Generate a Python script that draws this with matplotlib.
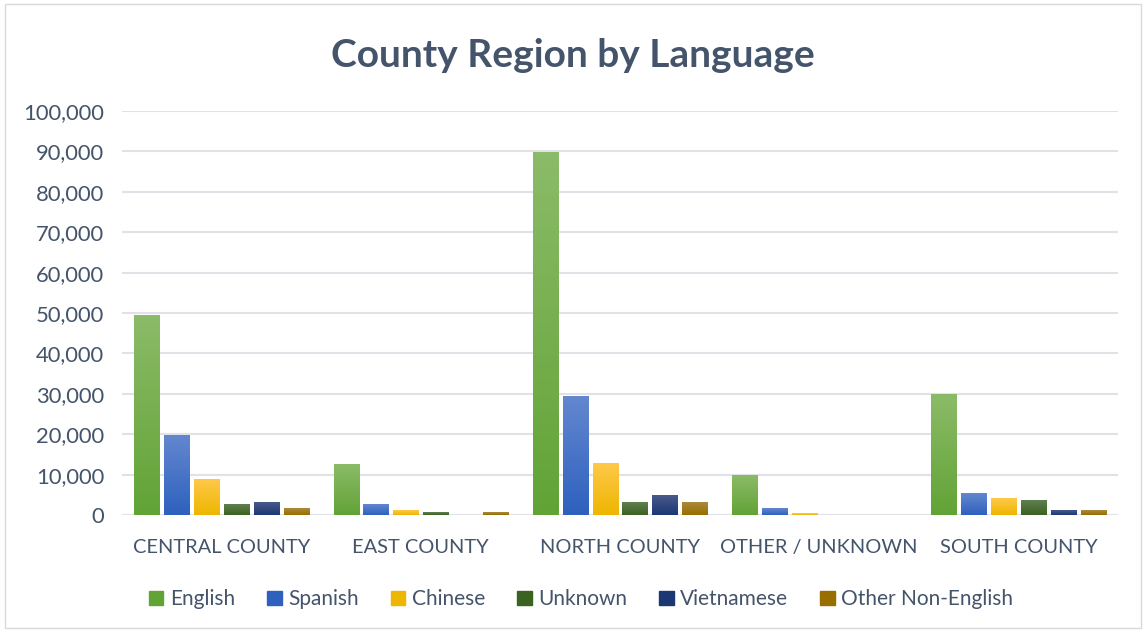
import numpy as np
import matplotlib.pyplot as plt
from matplotlib.colors import LinearSegmentedColormap
from matplotlib.patches import Rectangle

regions = ["CENTRAL COUNTY", "EAST COUNTY", "NORTH COUNTY", "OTHER / UNKNOWN", "SOUTH COUNTY"]
languages = ["English", "Spanish", "Chinese", "Unknown", "Vietnamese", "Other Non-English"]

english = [49300, 12400, 89700, 9900, 29800]
spanish = [19600, 2700, 29300, 1500, 5200]
chinese = [8900, 1000, 12700, 300, 4000]
unknown = [2700, 500, 3000, 0, 3500]
vietnamese = [3000, 0, 4800, 0, 1000]
other_non_english = [1500, 500, 3000, 0, 1200]

series = [english, spanish, chinese, unknown, vietnamese, other_non_english]

# (top, bottom) colours of each bar's vertical gradient
grad = [("#8bbb68", "#62a336"),
        ("#6387cf", "#2e61be"),
        ("#ffc84a", "#eeb600"),
        ("#607f50", "#3a6221"),
        ("#48598a", "#1c3873"),
        ("#a98a3e", "#996e00")]

text_col = "#44546a"
plt.rcParams['font.family'] = ['Lato', 'DejaVu Sans']

fig = plt.figure(figsize=(11.46, 6.31), dpi=100)
fig.patches.append(Rectangle((0.004, 0.004), 0.992, 0.99, transform=fig.transFigure,
                             fill=False, edgecolor="#d9d9d9", linewidth=1))
ax = fig.add_axes([122 / 1146, 1 - 515 / 631, (1118 - 122) / 1146, (515 - 111) / 631])

x = np.arange(len(regions))
bw = 0.126
step = 0.15
offsets = (np.arange(len(languages)) - 2.5) * step

for i, vals in enumerate(series):
    cmap = LinearSegmentedColormap.from_list(languages[i], [grad[i][1], grad[i][0]])
    bars = ax.bar(x + offsets[i], vals, bw, color=grad[i][1], label=languages[i], zorder=2)
    for b in bars:
        h = b.get_height()
        if h <= 0:
            continue
        x0 = b.get_x()
        ax.imshow(np.linspace(0, 1, 64).reshape(-1, 1), cmap=cmap, origin="lower",
                  extent=[x0, x0 + bw, 0, h], aspect="auto", zorder=3)

ax.set_xlim(-0.5, len(regions) - 0.5)
ax.set_ylim(0, 100000)
ax.set_yticks(np.arange(0, 100001, 10000))
ax.set_yticklabels([f"{v:,}" for v in range(0, 100001, 10000)])
ax.set_xticks(x)
ax.set_xticklabels(regions)
ax.yaxis.grid(True, color="#dfe3e8", linewidth=1.5, zorder=0)
ax.set_axisbelow(True)
for s in ax.spines.values():
    s.set_visible(False)
ax.tick_params(axis="both", length=0, colors=text_col, labelcolor=text_col)
ax.tick_params(axis="x", pad=17, labelsize=14.4)
ax.tick_params(axis="y", pad=13, labelsize=15.8)

fig.text(0.5, 0.912, "County Region by Language", ha="center", va="center",
         fontsize=28, fontweight="bold", color=text_col)

handles = [Rectangle((0, 0), 1, 1, color=grad[i][1]) for i in range(len(languages))]
fig.legend(handles, languages, loc="center", bbox_to_anchor=(0.507, 0.050), ncol=6,
           frameon=False, fontsize=15, labelcolor=text_col, handlelength=0.7,
           handleheight=0.7, handletextpad=0.3, columnspacing=1.55)

plt.savefig("out.png", dpi=100)
